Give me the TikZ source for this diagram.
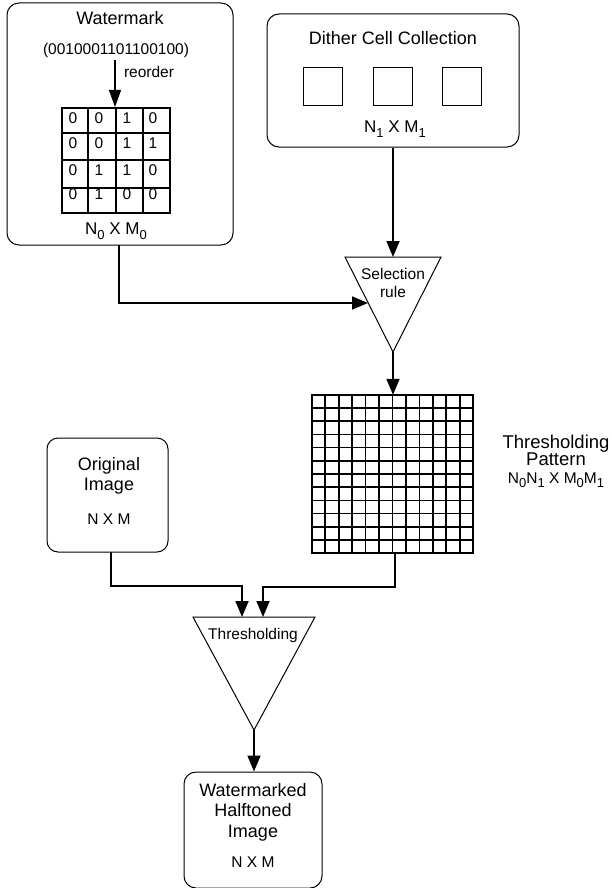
\documentclass[tikz,border=0pt]{standalone}
\usepackage{fontspec}
\setmainfont{Liberation Sans}
\usetikzlibrary{arrows.meta,calc}
\newcommand\lowsub[1]{\raisebox{-4.5pt}{\fontsize{13}{13}\selectfont #1}}
\begin{document}
\begin{tikzpicture}[x=1pt,y=-1pt,
 box/.style={draw,rounded corners=12pt,line width=1pt,inner sep=0pt},
 sq/.style={draw,line width=0.9pt,minimum width=39pt,minimum height=38pt,inner sep=0pt},
 conn/.style={line width=1.8pt,-{Triangle[length=16pt,width=13pt]}},
 big/.style={font=\fontsize{18}{20.5}\selectfont,align=center,inner sep=0pt},
 mid/.style={font=\fontsize{17}{19}\selectfont,align=center,inner sep=0pt},
 small/.style={font=\fontsize{15.5}{18}\selectfont,align=center,inner sep=0pt},
 tri/.style={draw,line width=1pt,fill=white},
]
\useasboundingbox (0,0) rectangle (612,888);

% ---------- Watermark box ----------
\node[box,minimum width=226pt,minimum height=242pt] (wm) at (120,124) {};
\node[big] (wmt) at (120,18) {Watermark};
\node[small] (bits) at (116,50) {(0010001101100100)};
\coordinate (reA) at (115,60);
\coordinate (reB) at (115,107);
\draw[line width=1.2pt,-{Triangle[length=17pt,width=12pt]}] (reA) -- (reB);
\node[small] (reord) at (149,72) {reorder};
% small 4x4 grid
\draw[line width=1.4pt] (62,108) rectangle (170,213);
\foreach \xx in {88,116,143} \draw[line width=1.4pt] (\xx,108) -- (\xx,213);
\foreach \yy in {133,160,188} \draw[line width=1.4pt] (62,\yy) -- (170,\yy);
\foreach \row/\yy/\a/\b/\c/\d in {1/118/0/0/1/0, 2/143/0/0/1/1, 3/170/0/1/1/0, 4/194/0/1/0/0}{
  \node[small] (d\row a) at (73,\yy) {\a};
  \node[small] (d\row b) at (99,\yy) {\b};
  \node[small] (d\row c) at (127,\yy) {\c};
  \node[small] (d\row d) at (153,\yy) {\d};
}
\node[mid] (wmdim) at (116,231) {N\lowsub{0} X M\lowsub{0}};
\coordinate (wmOut) at (119,245);

% ---------- Dither cell collection ----------
\node[box,minimum width=252pt,minimum height=133pt] (dc) at (393,80.5) {};
\node[big] (dct) at (393,38) {Dither Cell Collection};
\node[sq] (s1) at (322.5,86) {};
\node[sq] (s2) at (393,86) {};
\node[sq] (s3) at (462,86) {};
\node[mid] (dcdim) at (395,129) {N\lowsub{1} X M\lowsub{1}};

% ---------- Selection rule triangle ----------
\coordinate (selL) at (345,257);
\coordinate (selR) at (441,257);
\coordinate (selApex) at (393,352);
\coordinate (selTop) at (393,257);
\coordinate (selIn) at (368,303);
\draw[tri] (selL) -- (selR) -- (selApex) -- cycle;
\node[small] (selt) at (393,283) {Selection\\rule};

\draw[conn] (dc.south -| selTop) -- (selTop);
\draw[conn] (wmOut) |- (selIn);

% ---------- Thresholding pattern grid ----------
\node[draw=none,minimum width=161pt,minimum height=158pt,inner sep=0pt] (tp) at (392.5,474) {};
\draw[line width=1.7pt] (tp.north west) rectangle (tp.south east);
\foreach \i in {1,...,11}{
  \draw[line width=1.7pt] ($(tp.north west)!{\i/12}!(tp.north east)$) -- ($(tp.south west)!{\i/12}!(tp.south east)$);
  \draw[line width=1.7pt] ($(tp.north west)!{\i/12}!(tp.south west)$) -- ($(tp.north east)!{\i/12}!(tp.south east)$);
}
\node[big,font=\fontsize{18.5}{17}\selectfont] (tpt) at (556,450) {Thresholding\\Pattern};
\node[small] (tpdim) at (556,480) {N\lowsub{0}N\lowsub{1} X M\lowsub{0}M\lowsub{1}};

\draw[conn] (selApex) -- (selApex |- tp.north);

% ---------- Original image ----------
\node[box,rounded corners=11pt,minimum width=121pt,minimum height=114pt] (oi) at (107.5,495) {};
\node[big] (oit) at (109,476) {Original\\Image};
\node[small] (oidim) at (109,519) {N X M};
\coordinate (oiOut) at (111,552);
\coordinate (tpOut) at (395,553);

% ---------- Thresholding triangle ----------
\coordinate (thL) at (193,617);
\coordinate (thR) at (315,617);
\coordinate (thApex) at (254,730);
\coordinate (thIn1) at (242,617);
\coordinate (thIn2) at (263,617);
\draw[tri] (thL) -- (thR) -- (thApex) -- cycle;
\node[small] (tht) at (253,635) {Thresholding};

\draw[conn] (oiOut) -- ++(0,34) -| (thIn1);
\draw[conn] (tpOut) -- ++(0,34) -| (thIn2);

% ---------- Output ----------
\node[box,minimum width=138pt,minimum height=116pt] (out) at (253,830) {};
\node[big] (outt) at (253,812) {Watermarked\\Halftoned\\Image};
\node[small] (outdim) at (253,862) {N X M};

\draw[conn] (thApex) -- (out.north -| thApex);
\end{tikzpicture}
\end{document}
